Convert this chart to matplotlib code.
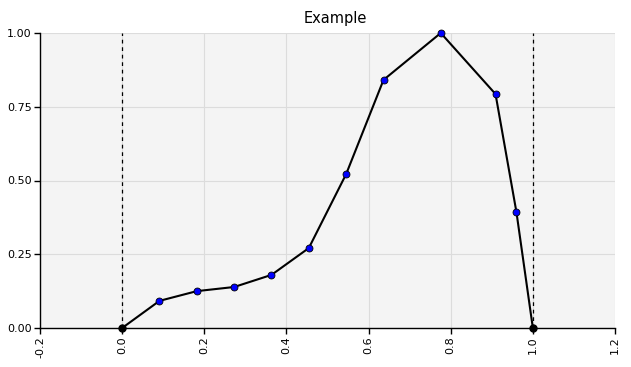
import matplotlib
matplotlib.use("Agg")
import matplotlib.pyplot as plt

x_vals = [0.0, 0.0909, 0.1818, 0.2727, 0.3636, 0.4545, 0.5455, 0.6364, 0.7758, 0.9091, 0.96, 1.0]
y_vals = [0.0, 0.092, 0.125, 0.139, 0.18, 0.271, 0.522, 0.841, 1.0, 0.793, 0.393, 0.0]
x_ticks = [-0.2, 0.0, 0.2, 0.4, 0.6, 0.8, 1.0, 1.2]
y_ticks = [0.0, 0.25, 0.5, 0.75, 1.0]
bounds = [0.0, 1.0]

fig = plt.figure(figsize=(6.31, 3.67), dpi=100)
ax = fig.add_axes([40/631, 1-328/367, 575/631, 295/367])
ax.set_facecolor("#f4f4f4")
ax.set_xlim(-0.2, 1.2)
ax.set_ylim(0, 1)
ax.set_xticks(x_ticks)
ax.set_yticks(y_ticks)
ax.set_xticklabels([f"{v:.1f}" for v in x_ticks], rotation=90, fontsize=8)
ax.set_yticklabels([f"{v:.2f}" for v in y_ticks], fontsize=8)
ax.grid(True, color="#dcdcdc", linewidth=0.8)
ax.set_axisbelow(True)
for s in ["top", "right"]:
    ax.spines[s].set_visible(False)
for s in ["left", "bottom"]:
    ax.spines[s].set_color("black")
    ax.spines[s].set_linewidth(1.0)
ax.tick_params(length=4, width=1, color="black", pad=2)

for b in bounds:
    ax.axvline(b, color="black", linestyle=(0, (3, 3)), linewidth=0.9, zorder=2)

ax.plot(x_vals, y_vals, color="black", linewidth=1.5, zorder=3, clip_on=False)
ax.plot(x_vals[1:-1], y_vals[1:-1], "o", color="#0000ff", markeredgecolor="black",
        markeredgewidth=0.6, markersize=5, zorder=4, clip_on=False)
ax.plot([x_vals[0], x_vals[-1]], [y_vals[0], y_vals[-1]], "o", color="black",
        markersize=5, zorder=4, clip_on=False)

fig.text(335/631, 1-19/367, "Example", ha="center", va="center", fontsize=10.5)

fig.savefig("out.png", dpi=100)
